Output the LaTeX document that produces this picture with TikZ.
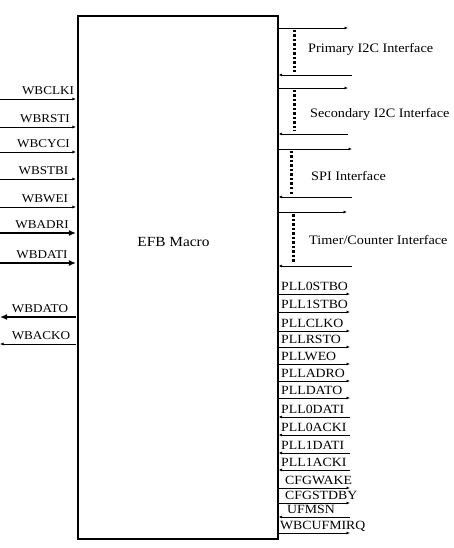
\documentclass[tikz,border=0pt]{standalone}
\usepackage{fontspec}
\setmainfont[FakeStretch=1.1]{Liberation Serif}
\usetikzlibrary{arrows.meta}
\begin{document}
\begin{tikzpicture}[x=1bp,y=-1bp,
  lbl/.style={font=\fontsize{12}{13}\selectfont, inner sep=0pt},
  plbl/.style={font=\fontsize{12.6}{13}\selectfont, inner sep=0pt},
  ilbl/.style={font=\fontsize{13}{14}\selectfont, inner sep=0pt},
  sig/.style={line width=0.8bp, -{Latex[length=3.5bp,width=3bp]}},
  sigin/.style={line width=0.8bp, {Latex[length=3.5bp,width=3bp]}-},
  bus/.style={line width=1.6bp, -{Latex[length=7bp,width=6bp]}},
  busin/.style={line width=1.6bp, {Latex[length=7bp,width=6bp]}-},
  dots/.style={line width=3bp, dash pattern=on 2.5bp off 2bp}
]
\useasboundingbox (0,0) rectangle (454,548);
\node[draw, line width=1.6bp, minimum width=200bp, minimum height=523bp, inner sep=0pt] (efb) at (177.75,277.25) {};
\node[font=\fontsize{14}{15}\selectfont, inner sep=0pt] (title) at (173.5,242) {EFB Macro};

% left side signals
\foreach \nm/\y/\cx/\st in {WBCLKI/99/48/sig, WBRSTI/127/45/sig, WBCYCI/152/43.5/sig, WBSTBI/179/43.5/sig, WBWEI/207/45/sig, WBADRI/233/42/bus, WBDATI/263/42/bus, WBDATO/317/40/busin, WBACKO/344/41/sigin}{
  \coordinate (s-\nm) at (0,\y);
  \draw[\st, shorten >=1bp, shorten <=0bp] (s-\nm) -- (s-\nm -| efb.west);
  \node[lbl, anchor=base] (t-\nm) at (\cx,\y-4.5) {\nm};
}

% interfaces on right
\foreach \nm/\yo/\eo/\yi/\si/\dx/\tx/\ty/\txt in {
  pri/28/348/75/352/294/308/49/{Primary I2C Interface},
  sec/88/348/134/348/294/310/114/{Secondary I2C Interface},
  spi/149/352/197/352/291/311/176/{SPI Interface},
  tim/212/347/266/352/293/309/240/{Timer/Counter Interface}}{
  \coordinate (o-\nm) at (\eo,\yo);
  \coordinate (i-\nm) at (\si,\yi);
  \coordinate (da-\nm) at (\dx,\yo+2);
  \coordinate (db-\nm) at (\dx,\yi-3);
  \draw[sig] (o-\nm -| efb.east) -- (o-\nm);
  \draw[sigin] (i-\nm -| efb.east) -- (i-\nm);
  \draw[dots] (da-\nm) -- (db-\nm);
  \node[ilbl, anchor=west] (t-\nm) at (\tx,\ty) {\txt};
}

% PLL / misc signals
\foreach \nm/\y/\tx/\st in {PLL0STBO/294/281/sig, PLL1STBO/312/281/sig, PLLCLKO/331/281/sig, PLLRSTO/347/281/sig, PLLWEO/364/281/sig, PLLADRO/381/281/sig, PLLDATO/398/281/sig, PLL0DATI/417/281/sigin, PLL0ACKI/435/281/sigin, PLL1DATI/453/281/sigin, PLL1ACKI/470/281/sigin, CFGWAKE/488/285/sig, CFGSTDBY/503/285/sig, UFMSN/517/287/sigin, WBCUFMIRQ/533/280/sig}{
  \coordinate (p-\nm) at (350,\y);
  \draw[\st] (p-\nm -| efb.east) -- (p-\nm);
  \node[plbl, anchor=base west] (t-\nm) at (\tx,\y-3.5) {\nm};
}
\end{tikzpicture}
\end{document}
